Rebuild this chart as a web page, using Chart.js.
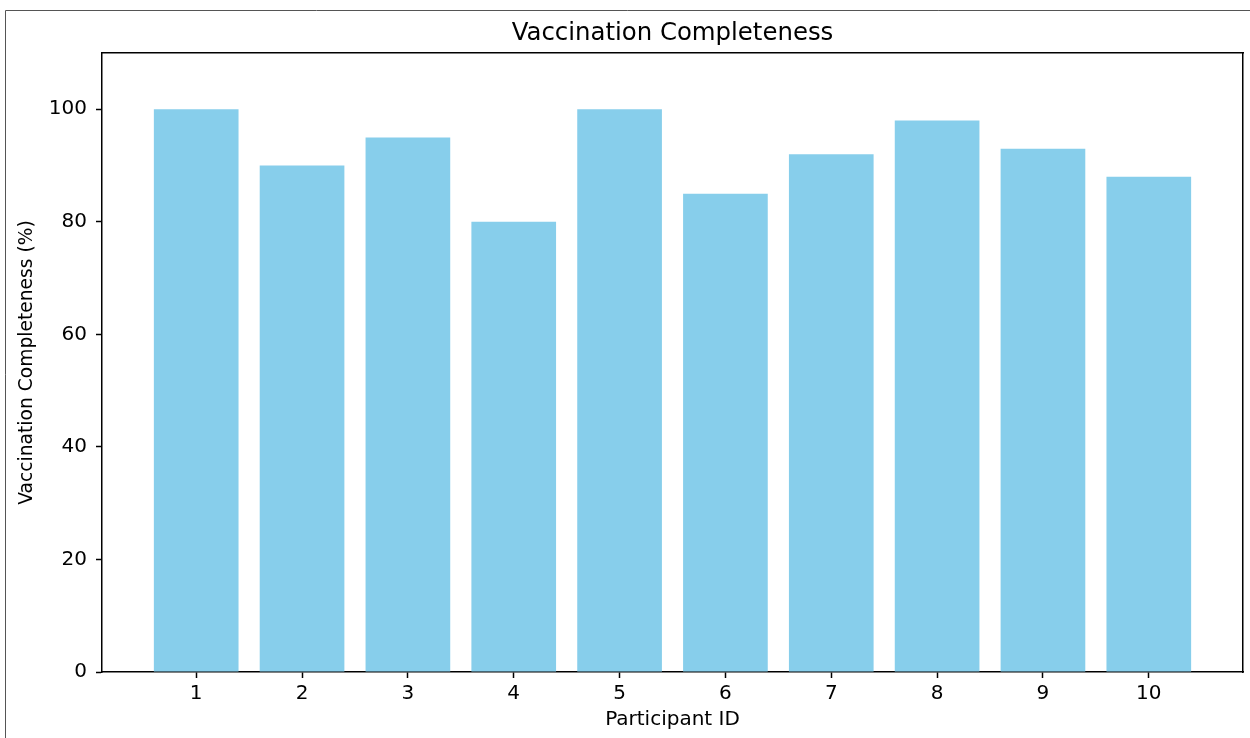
<!DOCTYPE html>
<html>
<head>
<meta charset="utf-8">
<title>Vaccination Completeness</title>
<script src="https://cdn.jsdelivr.net/npm/chart.js@4.4.1/dist/chart.umd.min.js"></script>
<style>
    body { margin: 0; background: #ffffff; }
    canvas { display: block; }
</style>
</head>
<body>
<canvas id="vaccChart" width="1250" height="738"></canvas>
<script>
// chart data
const participantIds = [1, 2, 3, 4, 5, 6, 7, 8, 9, 10];
const completeness = [100, 90, 95, 80, 100, 85, 92, 98, 93, 88];
const xTicks = [1, 2, 3, 4, 5, 6, 7, 8, 9, 10];
const yTicks = [0, 20, 40, 60, 80, 100];

const font = 'DejaVu Sans';
const spine = 1.5;

// thin frame round the whole figure (top and left edge are visible)
const figureBorder = {
    id: 'figureBorder',
    beforeDraw(chart) {
        const ctx = chart.ctx;
        ctx.save();
        ctx.strokeStyle = '#555';
        ctx.lineWidth = 1;
        ctx.beginPath();
        ctx.moveTo(5.5, chart.height);
        ctx.lineTo(5.5, 10.5);
        ctx.lineTo(chart.width, 10.5);
        ctx.stroke();
        ctx.restore();
    }
};

const ctx = document.getElementById('vaccChart');
new Chart(ctx, {
    type: 'bar',
    data: {
        datasets: [{
            label: 'Vaccination Completeness (%)',
            data: participantIds.map((id, i) => ({ x: id, y: completeness[i] })),
            backgroundColor: '#87CEEB',
            borderWidth: 0,
            barPercentage: 0.8,
            categoryPercentage: 1.0
        }]
    },
    options: {
        responsive: false,
        animation: false,
        layout: { padding: 0 },
        plugins: {
            legend: { display: false },
            tooltip: { enabled: false }
        },
        scales: {
            x: {
                type: 'linear',
                position: 'bottom',
                offset: false,
                min: 0.11,
                max: 10.89,
                afterBuildTicks: (s) => { s.ticks = xTicks.map(v => ({ value: v })); },
                afterFit: (s) => { s.height = 66; s.paddingLeft = 0; s.paddingRight = 0; },
                ticks: {
                    color: '#000',
                    font: { family: font, size: 20 },
                    padding: 4,
                    maxRotation: 0,
                    autoSkip: false
                },
                grid: {
                    offset: false,
                    drawOnChartArea: false,
                    drawTicks: true,
                    tickLength: 6,
                    tickColor: '#000',
                    tickWidth: spine
                },
                border: { display: true, color: '#000', width: spine },
                title: {
                    display: true,
                    text: 'Participant ID',
                    color: '#000',
                    font: { family: font, size: 20 },
                    padding: { top: 0, bottom: 6 }
                }
            },
            xTop: {
                type: 'linear',
                position: 'top',
                offset: false,
                min: 0.11,
                max: 10.89,
                afterFit: (s) => { s.height = 53; s.paddingLeft = 0; s.paddingRight = 0; },
                ticks: { display: false },
                grid: { offset: false, drawOnChartArea: false, drawTicks: false },
                border: { display: true, color: '#000', width: spine },
                title: {
                    display: true,
                    text: 'Vaccination Completeness',
                    color: '#000',
                    font: { family: font, size: 24.4 },
                    padding: { top: 19, bottom: 0 }
                }
            },
            y: {
                type: 'linear',
                position: 'left',
                min: 0,
                max: 110,
                afterBuildTicks: (s) => { s.ticks = yTicks.map(v => ({ value: v })); },
                afterFit: (s) => { s.width = 102; },
                ticks: {
                    color: '#000',
                    font: { family: font, size: 20 },
                    padding: 9
                },
                grid: {
                    drawOnChartArea: false,
                    drawTicks: true,
                    tickLength: 6,
                    tickColor: '#000',
                    tickWidth: spine
                },
                border: { display: true, color: '#000', width: spine },
                title: {
                    display: true,
                    text: 'Vaccination Completeness (%)',
                    color: '#000',
                    font: { family: font, size: 18.7 },
                    padding: { top: 16, bottom: 0 }
                }
            },
            yRight: {
                type: 'linear',
                position: 'right',
                min: 0,
                max: 110,
                afterFit: (s) => { s.width = 7; s.paddingTop = 0; s.paddingBottom = 0; },
                ticks: { display: false },
                grid: { drawOnChartArea: false, drawTicks: false },
                border: { display: true, color: '#000', width: spine }
            }
        }
    },
    plugins: [figureBorder]
});
</script>
</body>
</html>
